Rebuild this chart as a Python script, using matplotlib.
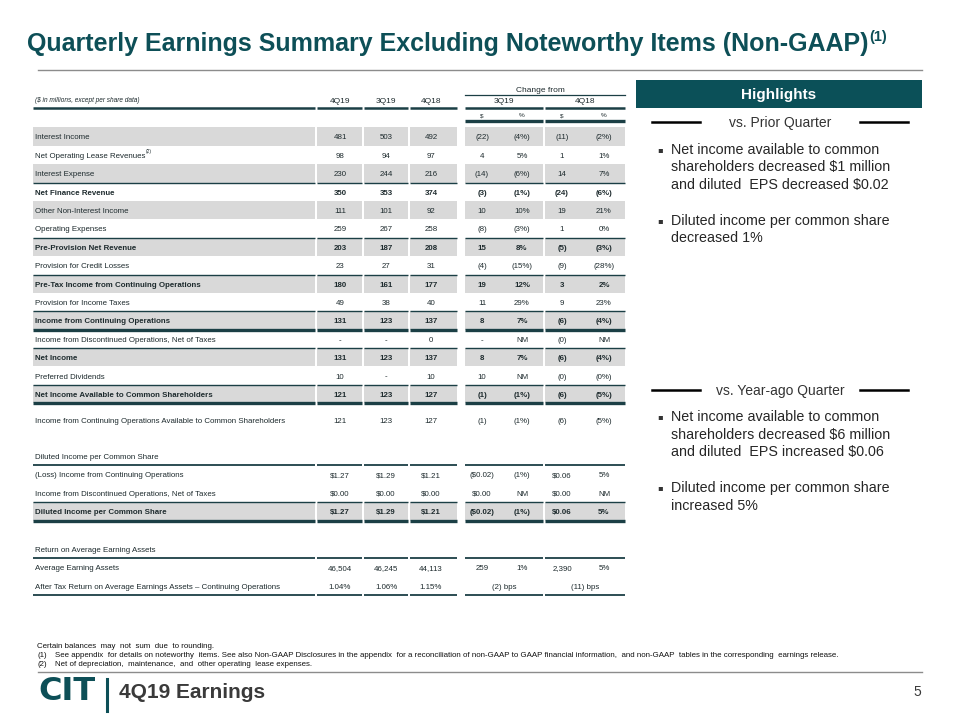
import matplotlib
matplotlib.use("Agg")
import matplotlib.pyplot as plt
from matplotlib import font_manager
from matplotlib.patches import Rectangle

# ---------------- data ----------------
title = "Quarterly Earnings Summary Excluding Noteworthy Items (Non-GAAP)"
title_sup = "(1)"
units_note = "($ in millions, except per share data)"
period_cols = ["4Q19", "3Q19", "4Q18"]
change_header = "Change from"
change_groups = ["3Q19", "4Q18"]
change_sub = ["$", "%", "$", "%"]

labels = [
    "Interest Income",
    "Net Operating Lease Revenues",
    "Interest Expense",
    "Net Finance Revenue",
    "Other Non-Interest Income",
    "Operating Expenses",
    "Pre-Provision Net Revenue",
    "Provision for Credit Losses",
    "Pre-Tax Income from Continuing Operations",
    "Provision for Income Taxes",
    "Income from Continuing Operations",
    "Income from Discontinued Operations, Net of Taxes",
    "Net Income",
    "Preferred Dividends",
    "Net Income Available to Common Shareholders",
]
v_4q19 = ["481", "98", "230", "350", "111", "259", "203", "23", "180", "49", "131", "-", "131", "10", "121"]
v_3q19 = ["503", "94", "244", "353", "101", "267", "187", "27", "161", "38", "123", "-", "123", "-", "123"]
v_4q18 = ["492", "97", "216", "374", "92", "258", "208", "31", "177", "40", "137", "0", "137", "10", "127"]
chg_q_usd = ["(22)", "4", "(14)", "(3)", "10", "(8)", "15", "(4)", "19", "11", "8", "-", "8", "10", "(1)"]
chg_q_pct = ["(4%)", "5%", "(6%)", "(1%)", "10%", "(3%)", "8%", "(15%)", "12%", "29%", "7%", "NM", "7%", "NM", "(1%)"]
chg_y_usd = ["(11)", "1", "14", "(24)", "19", "1", "(5)", "(9)", "3", "9", "(6)", "(0)", "(6)", "(0)", "(6)"]
chg_y_pct = ["(2%)", "1%", "7%", "(6%)", "21%", "0%", "(3%)", "(28%)", "2%", "23%", "(4%)", "NM", "(4%)", "(0%)", "(5%)"]

cont_label = "Income from Continuing Operations Available to Common Shareholders"
cont_vals = ["121", "123", "127", "(1)", "(1%)", "(6)", "(5%)"]

eps_header = "Diluted Income per Common Share"
eps_labels = ["(Loss) Income from Continuing Operations",
              "Income from Discontinued Operations, Net of Taxes",
              "Diluted Income per Common Share"]
eps_4q19 = ["$1.27", "$0.00", "$1.27"]
eps_3q19 = ["$1.29", "$0.00", "$1.29"]
eps_4q18 = ["$1.21", "$0.00", "$1.21"]
eps_q_usd = ["($0.02)", "$0.00", "($0.02)"]
eps_q_pct = ["(1%)", "NM", "(1%)"]
eps_y_usd = ["$0.06", "$0.00", "$0.06"]
eps_y_pct = ["5%", "NM", "5%"]

roa_header = "Return on Average Earning Assets"
aea_label = "Average Earning Assets"
aea_vals = ["46,504", "46,245", "44,113", "259", "1%", "2,390", "5%"]
roa_label = "After Tax Return on Average Earnings Assets \u2013 Continuing Operations"
roa_vals = ["1.04%", "1.06%", "1.15%"]
roa_chg = ["(2) bps", "(11) bps"]

highlights_title = "Highlights"
hl_sections = ["vs. Prior Quarter", "vs. Year-ago Quarter"]
hl_bullets = [
    [["Net income available to common", "shareholders decreased $1 million", "and diluted  EPS decreased $0.02"],
     ["Diluted income per common share", "decreased 1%"]],
    [["Net income available to common", "shareholders decreased $6 million", "and diluted  EPS increased $0.06"],
     ["Diluted income per common share", "increased 5%"]],
]

footnotes = [
    "Certain balances  may  not  sum  due  to rounding.",
    "See appendix  for details on noteworthy  items. See also Non-GAAP Disclosures in the appendix  for a reconciliation of non-GAAP to GAAP financial information,  and non-GAAP  tables in the corresponding  earnings release.",
    "Net of depreciation,  maintenance,  and  other operating  lease expenses.",
]
footer_text = "4Q19 Earnings"
page_no = "5"

# ---------------- styling ----------------
avail = {f.name for f in font_manager.fontManager.ttflist}
NARROW = "Liberation Sans Narrow" if "Liberation Sans Narrow" in avail else "Liberation Sans"
SANS = ["Liberation Sans", "DejaVu Sans"]
TEAL = "#0D4F57"
DARK = "#1E2B2E"
LINE = "#1B3F45"
BAND = "#D9D9D9"

bold_rows = {3, 6, 8, 10, 12, 14}
thin_above = {3, 6, 8, 10, 12, 14}
thick_below = {10, 14}

fig = plt.figure(figsize=(9.6, 7.2), dpi=100)
ax = fig.add_axes([0, 0, 1, 1])
ax.set_xlim(0, 960)
ax.set_ylim(720, 0)
ax.axis("off")

col_x = [340, 386, 431, 482, 522, 562, 604]
segs = [(33, 315), (317, 362), (364, 408), (410, 457), (465, 543), (545, 625)]
FS = 5.7


def txt(x, y, s, size=FS, weight="normal", ha="center", color=DARK, family=None, style="normal"):
    # baseline placed so that cap height is centred on y
    return ax.text(x, y + size * 0.52, s, fontsize=size, fontweight=weight, ha=ha, va="baseline", color=color,
                   family=family if family else [NARROW, "DejaVu Sans"], style=style)


def hline_segs(y, lw, segments=segs):
    for a, b in segments:
        ax.plot([a, b], [y, y], color=LINE, lw=lw, solid_capstyle="butt")


def band(y, h=18.4):
    for a, b in segs:
        ax.add_patch(Rectangle((a, y - h / 2), b - a, h, color=BAND, lw=0, zorder=0))


def row(y, label, vals, bold=False):
    w = "bold" if bold else "normal"
    lab = txt(35, y, label, ha="left", weight=w)
    for x, v in zip(col_x, vals):
        txt(x, y, v, weight=w)
    return lab


def right_edge(artist):
    fig.canvas.draw()
    b = artist.get_window_extent(fig.canvas.get_renderer())
    return b.x1 * 960 / fig.bbox.width


# title
t = ax.text(27, 44, title, fontsize=18, fontweight="bold", color=TEAL, ha="left", va="center", family=SANS)
x_end = right_edge(t)
ax.text(x_end + 1, 37, title_sup, fontsize=10.5, fontweight="bold", color=TEAL, ha="left", va="center", family=SANS)
ax.plot([38, 922], [70, 70], color="#8C8C8C", lw=1)

# table header
txt(35, 100, units_note, ha="left", size=4.7, style="italic")
for x, s in zip(col_x[:3], period_cols):
    txt(x, 100, s, size=6.0)
txt(540, 89, change_header, size=6.0)
ax.plot([465, 625], [94.5, 94.5], color=LINE, lw=0.9)
txt(504, 100, change_groups[0], size=6.0)
txt(585, 100, change_groups[1], size=6.0)
hline_segs(108, 1.8)
for x, s in zip(col_x[3:], change_sub):
    txt(x, 115, s, size=4.6)
hline_segs(121, 2.4, segs[4:])

# main body
y0, pitch = 136.5, 18.4
for i, lab in enumerate(labels):
    y = y0 + pitch * i
    if i % 2 == 0:
        band(y)
    vals = [v_4q19[i], v_3q19[i], v_4q18[i], chg_q_usd[i], chg_q_pct[i], chg_y_usd[i], chg_y_pct[i]]
    la = row(y, lab, vals, bold=i in bold_rows)
    if i == 1:
        ax.text(right_edge(la) + 0.5, y - 3.5, "(2)", fontsize=3.5, color=DARK,
                ha="left", va="center", family=[NARROW, "DejaVu Sans"])
    if i in thin_above:
        hline_segs(y - pitch / 2, 1.0)
    if i in thick_below:
        hline_segs(y + pitch / 2, 2.4)

# continuing ops available
row(420, cont_label, cont_vals)

# diluted EPS block
txt(35, 456, eps_header, ha="left")
hline_segs(465, 1.3)
eps_y = [474.5, 493, 511.5]
for k in range(3):
    if k == 2:
        band(eps_y[k])
        hline_segs(eps_y[k] - 9.2, 1.0)
    vals = [eps_4q19[k], eps_3q19[k], eps_4q18[k], eps_q_usd[k], eps_q_pct[k], eps_y_usd[k], eps_y_pct[k]]
    row(eps_y[k], eps_labels[k], vals, bold=(k == 2))
hline_segs(eps_y[2] + 9.2, 2.4)

# ROA block
txt(35, 549, roa_header, ha="left")
hline_segs(558, 1.3)
row(567.5, aea_label, aea_vals)
txt(35, 586, roa_label, ha="left")
for x, v in zip(col_x[:3], roa_vals):
    txt(x, 586, v)
txt(504, 586, roa_chg[0])
txt(585, 586, roa_chg[1])
hline_segs(595, 1.3)

# highlights panel
ax.add_patch(Rectangle((636, 80), 286, 28, color="#0B5058", lw=0))
ax.text(779, 95, highlights_title, fontsize=11, fontweight="bold", color="white", ha="center", va="center", family=SANS)
sec_y = [122, 390]
for s, (sy, head) in enumerate(zip(sec_y, hl_sections)):
    ax.plot([652, 700], [sy, sy], color="black", lw=1.8)
    ax.plot([860, 908], [sy, sy], color="black", lw=1.8)
    ax.text(780, sy + 0.5, head, fontsize=10, color="#333333", ha="center", va="center", family=SANS)
    starts = [sy + 28, sy + 99] if s == 0 else [sy + 27, sy + 98]
    for bl, by in zip(hl_bullets[s], starts):
        ax.text(660, by, "\u25aa", fontsize=6, color="#333333", ha="center", va="center", family=["DejaVu Sans"])
        for j, line in enumerate(bl):
            ax.text(671, by + 17.5 * j, line, fontsize=10.3, color="#262626", ha="left", va="center", family=SANS)

# footnotes
FN = 5.7
ax.text(37, 646, footnotes[0], fontsize=FN, color="#111111", ha="left", va="center", family=SANS)
for k, fn in enumerate(footnotes[1:]):
    yy = 655.5 + 8.5 * k
    ax.text(37, yy, "(%d)" % (k + 1), fontsize=FN, color="#111111", ha="left", va="center", family=SANS)
    ax.text(55, yy, fn, fontsize=FN, color="#111111", ha="left", va="center", family=SANS)
ax.plot([38, 922], [672, 672], color="#8C8C8C", lw=1)

# footer
ax.text(38, 692, "CIT", fontsize=23, fontweight="bold", color=TEAL, ha="left", va="center",
        family=["DejaVu Sans"])
ax.plot([107, 107], [679, 711], color=TEAL, lw=2.2)
ax.text(119, 693, footer_text, fontsize=15, fontweight="bold", color="#3A3A3A", ha="left", va="center", family=SANS)
ax.text(921, 692, page_no, fontsize=10, color="#3A3A3A", ha="right", va="center", family=SANS)

fig.savefig("out.png", dpi=100)
